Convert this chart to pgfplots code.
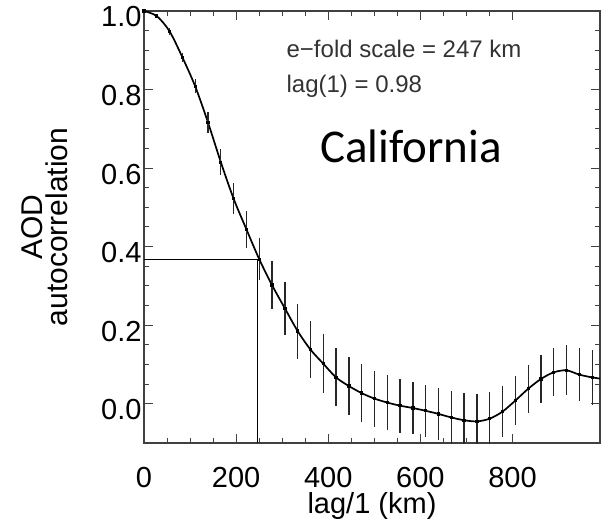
\documentclass[border=0pt]{standalone}
\usepackage{pgfplots}
\pgfplotsset{compat=1.18}
\usepackage{pgfplotstable}
\usepackage{fontspec}
\setmainfont{Liberation Sans}
\newfontfamily\carlito{Carlito}
\usetikzlibrary{calc}
\pgfplotstableread{
x y e
0 1.000 0.002
27.8 0.987 0.004
55.6 0.948 0.008
83.4 0.882 0.012
111.2 0.808 0.018
139 0.716 0.026
166.8 0.615 0.033
194.6 0.522 0.040
222.4 0.444 0.048
250.2 0.368 0.054
278 0.302 0.061
305.8 0.243 0.067
333.6 0.185 0.070
361.4 0.138 0.073
389.2 0.102 0.075
417 0.067 0.074
444.8 0.045 0.074
472.6 0.027 0.073
500.4 0.013 0.071
528.2 0.003 0.070
556 -0.005 0.069
583.8 -0.011 0.067
611.6 -0.018 0.066
639.4 -0.026 0.066
667.2 -0.035 0.068
695 -0.042 0.070
722.8 -0.045 0.069
750.6 -0.038 0.068
778.4 -0.020 0.065
806.2 0.008 0.063
834 0.038 0.061
861.8 0.063 0.060
889.6 0.080 0.061
917.4 0.085 0.064
945.2 0.074 0.068
973 0.067 0.070
}\acf
\pgfplotstableread{
x y
973 0.067
990 0.064
}\tail
\begin{document}
\begin{tikzpicture}
\begin{axis}[
  scale only axis,
  width=456pt, height=432pt,
  xmin=0, xmax=990, ymin=-0.1, ymax=1.0,
  xtick={0,200,400,600,800},
  ytick={0,0.2,0.4,0.6,0.8,1.0},
  minor x tick num=3, minor y tick num=3,
  tick align=inside,
  major tick length=9pt, minor tick length=5pt,
  every tick/.style={black!75, line width=1pt},
  axis line style={black!75, line width=1.2pt},
  /pgf/number format/assume math mode=true,
  yticklabel={\pgfmathprintnumber[fixed,precision=1,zerofill]{\tick}},
  ticklabel style={font=\fontsize{29}{34}\selectfont},
  xticklabel style={yshift=-21pt},
  yticklabel style={xshift=1pt, yshift=-6pt},
  xlabel={lag/1 (km)},
  xlabel style={font=\fontsize{29}{34}\selectfont, yshift=2pt},
  ylabel={\shortstack{AOD\\autocorrelation}},
  ylabel style={font=\fontsize{30}{30}\selectfont, yshift=26pt},
  clip=true,
]
\addplot[black, line width=1.7pt, smooth, mark=square*, mark size=0.8pt,
  error bars/.cd, y dir=both, y explicit, error mark=none,
  error bar style={black!85, line width=1.3pt}]
  table[x=x, y=y, y error=e] {\acf};
\addplot[black, line width=1.7pt] table[x=x, y=y] {\tail};
\addplot[black, line width=1.3pt] coordinates {(0,0.368) (247,0.368) (247,-0.1)};
\node[anchor=base west, text=black!80, font=\fontsize{24}{28}\selectfont] at (axis cs:302,0.882) {e−fold scale = 247 km};
\node[anchor=base west, text=black!80, font=\fontsize{24}{28}\selectfont] at (axis cs:302,0.792) {lag(1) = 0.98};
\node[anchor=base, font=\carlito\fontsize{47}{50}\selectfont] at (axis cs:580,0.615) {California};
\end{axis}
\pgfresetboundingbox
\path ($(current axis.south west)+(-144pt,-84pt)$) rectangle ($(current axis.north east)+(6pt,11pt)$);
\end{tikzpicture}
\end{document}
